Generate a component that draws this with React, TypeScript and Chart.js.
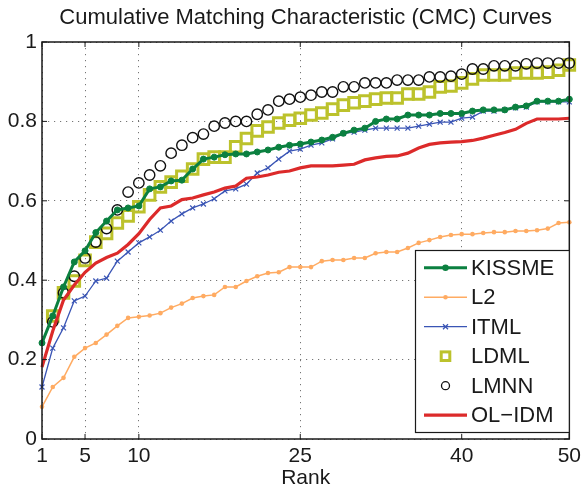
import { useEffect, useRef } from "react";
import { Chart, registerables } from "chart.js";
Chart.register(...registerables);

const ranks = [1,2,3,4,5,6,7,8,9,10,11,12,13,14,15,16,17,18,19,20,21,22,23,24,25,26,27,28,29,30,31,32,33,34,35,36,37,38,39,40,41,42,43,44,45,46,47,48,49,50];
const xTickValues = [1, 5, 10, 25, 40, 50];
const yTickValues = [0, 0.2, 0.4, 0.6, 0.8, 1];
const yTickLabels = ["0", "0.2", "0.4", "0.6", "0.8", "1"];

const kissme = [0.242,0.31,0.383,0.446,0.474,0.52,0.549,0.577,0.582,0.587,0.63,0.635,0.65,0.652,0.68,0.705,0.71,0.716,0.718,0.718,0.723,0.728,0.735,0.74,0.743,0.748,0.753,0.76,0.77,0.778,0.783,0.8,0.806,0.806,0.816,0.816,0.816,0.82,0.82,0.82,0.826,0.829,0.829,0.829,0.836,0.839,0.851,0.851,0.851,0.856];
const l2 = [0.081,0.131,0.154,0.207,0.229,0.242,0.263,0.285,0.305,0.308,0.311,0.317,0.331,0.341,0.355,0.36,0.363,0.383,0.383,0.398,0.41,0.418,0.42,0.433,0.433,0.433,0.448,0.451,0.451,0.456,0.456,0.468,0.471,0.471,0.481,0.494,0.501,0.509,0.514,0.516,0.516,0.519,0.521,0.521,0.524,0.524,0.526,0.53,0.544,0.546];
const itml = [0.131,0.229,0.28,0.348,0.36,0.398,0.405,0.448,0.471,0.494,0.509,0.526,0.549,0.567,0.582,0.592,0.605,0.625,0.63,0.642,0.67,0.683,0.705,0.725,0.73,0.74,0.746,0.756,0.77,0.773,0.778,0.783,0.783,0.783,0.783,0.788,0.793,0.798,0.798,0.808,0.811,0.826,0.826,0.829,0.834,0.836,0.849,0.849,0.849,0.849];
const ldml = [null,0.31,0.368,0.398,0.45,0.496,0.518,0.544,0.562,0.585,0.615,0.635,0.647,0.662,0.68,0.705,0.71,0.71,0.736,0.757,0.776,0.786,0.796,0.803,0.808,0.816,0.821,0.831,0.841,0.847,0.851,0.856,0.859,0.859,0.869,0.869,0.874,0.887,0.889,0.897,0.907,0.917,0.917,0.917,0.922,0.922,0.922,0.924,0.929,0.942];
const lmnn = [null,0.295,0.368,0.41,0.456,0.496,0.53,0.577,0.622,0.645,0.665,0.688,0.72,0.74,0.759,0.768,0.788,0.796,0.8,0.8,0.818,0.829,0.851,0.856,0.861,0.866,0.874,0.874,0.887,0.887,0.897,0.897,0.897,0.904,0.904,0.904,0.912,0.912,0.914,0.919,0.932,0.932,0.94,0.94,0.94,0.945,0.947,0.947,0.947,0.947];
const olidm = [0.181,0.272,0.35,0.388,0.42,0.443,0.457,0.468,0.49,0.517,0.553,0.582,0.587,0.603,0.607,0.615,0.622,0.632,0.637,0.657,0.66,0.665,0.672,0.675,0.683,0.688,0.688,0.688,0.69,0.692,0.703,0.708,0.712,0.713,0.72,0.733,0.742,0.746,0.748,0.749,0.752,0.758,0.765,0.772,0.78,0.795,0.806,0.806,0.806,0.808];

const seriesNames = ["KISSME", "L2", "ITML", "LDML", "LMNN", "OL\u2212IDM"];
const FONT = "'Liberation Sans', Arial, Helvetica, sans-serif";

const GREEN = "#0b8040";
const ORANGE = "#ffab62";
const BLUE = "#3a55b5";
const YELLOW = "#bcc22c";
const BLACK = "#111111";
const RED = "#dc2a2a";

const toPts = (vals: (number | null)[]) => ranks.map((r, i) => ({ x: r, y: vals[i] }));

const framePlugin = {
  id: "frameAndLegend",
  afterDraw(chart: any) {
    const { ctx, chartArea: a, scales } = chart;
    ctx.save();
    ctx.strokeStyle = "#1a1a1a";
    ctx.lineWidth = 1.5;
    ctx.strokeRect(a.left, a.top, a.right - a.left, a.bottom - a.top);
    ctx.lineWidth = 1;
    ctx.beginPath();
    for (const t of xTickValues) {
      const px = scales.x.getPixelForValue(t);
      ctx.moveTo(px, a.bottom); ctx.lineTo(px, a.bottom - 5);
      ctx.moveTo(px, a.top); ctx.lineTo(px, a.top + 5);
    }
    for (const t of yTickValues) {
      const py = scales.y.getPixelForValue(t);
      ctx.moveTo(a.left, py); ctx.lineTo(a.left + 5, py);
      ctx.moveTo(a.right, py); ctx.lineTo(a.right - 5, py);
    }
    ctx.stroke();

    const bx = 415.5, by = 250.5, bw = a.right - 415.5, bh = 182;
    ctx.fillStyle = "#ffffff";
    ctx.fillRect(bx, by, bw, bh);
    ctx.strokeStyle = "#1a1a1a";
    ctx.lineWidth = 1.2;
    ctx.strokeRect(bx, by, bw, bh);
    const rowY0 = 267.7, rowH = 29.5;
    const lx0 = 424, lx1 = 467, mx = 445.5, tx = 471;
    ctx.font = `22px ${FONT}`;
    ctx.textBaseline = "middle";
    ctx.textAlign = "left";
    seriesNames.forEach((name, i) => {
      const y = rowY0 + i * rowH;
      if (i === 0) {
        ctx.strokeStyle = GREEN; ctx.lineWidth = 3;
        ctx.beginPath(); ctx.moveTo(lx0, y); ctx.lineTo(lx1, y); ctx.stroke();
        ctx.fillStyle = GREEN; ctx.beginPath(); ctx.arc(mx, y, 3.2, 0, Math.PI * 2); ctx.fill();
      } else if (i === 1) {
        ctx.strokeStyle = ORANGE; ctx.lineWidth = 1.5;
        ctx.beginPath(); ctx.moveTo(lx0, y); ctx.lineTo(lx1, y); ctx.stroke();
        ctx.fillStyle = ORANGE; ctx.beginPath(); ctx.arc(mx, y, 2.3, 0, Math.PI * 2); ctx.fill();
      } else if (i === 2) {
        ctx.strokeStyle = BLUE; ctx.lineWidth = 1.3;
        ctx.beginPath(); ctx.moveTo(lx0, y); ctx.lineTo(lx1, y); ctx.stroke();
        ctx.beginPath();
        ctx.moveTo(mx - 2.5, y - 2.5); ctx.lineTo(mx + 2.5, y + 2.5);
        ctx.moveTo(mx - 2.5, y + 2.5); ctx.lineTo(mx + 2.5, y - 2.5);
        ctx.stroke();
      } else if (i === 3) {
        ctx.strokeStyle = YELLOW; ctx.lineWidth = 3;
        ctx.strokeRect(mx - 4.3, y - 4.3, 8.6, 8.6);
      } else if (i === 4) {
        ctx.strokeStyle = BLACK; ctx.lineWidth = 1.3;
        ctx.beginPath(); ctx.arc(mx, y, 4, 0, Math.PI * 2); ctx.stroke();
      } else {
        ctx.strokeStyle = RED; ctx.lineWidth = 3.2;
        ctx.beginPath(); ctx.moveTo(lx0, y); ctx.lineTo(lx1, y); ctx.stroke();
      }
      ctx.fillStyle = "#1a1a1a";
      ctx.fillText(name, tx, y + 1);
    });
    ctx.restore();
  },
};

export default function App() {
  const ref = useRef<HTMLCanvasElement>(null);
  useEffect(() => {
    if (!ref.current) return;
    const chart = new Chart(ref.current, {
      type: "line",
      data: {
        datasets: [
          { label: "OL-IDM", data: toPts(olidm), borderColor: RED, borderWidth: 3.2, pointRadius: 0, fill: false, order: 1, clip: false },
          { label: "KISSME", data: toPts(kissme), borderColor: GREEN, backgroundColor: GREEN, borderWidth: 3, pointRadius: 3, pointBorderWidth: 1, pointBackgroundColor: GREEN, pointBorderColor: GREEN, pointStyle: "circle", order: 2, clip: false },
          { label: "LMNN", data: toPts(lmnn), showLine: false, borderColor: BLACK, pointBorderColor: BLACK, pointBackgroundColor: "rgba(0,0,0,0)", pointRadius: 5.2, pointBorderWidth: 1.4, pointStyle: "circle", order: 3, clip: false },
          { label: "LDML", data: toPts(ldml), showLine: false, borderColor: YELLOW, pointBorderColor: YELLOW, pointBackgroundColor: "rgba(0,0,0,0)", pointRadius: 7.5, pointBorderWidth: 3, pointStyle: "rect", order: 4, clip: false },
          { label: "ITML", data: toPts(itml), borderColor: BLUE, borderWidth: 1.3, pointRadius: 3.5, pointBorderWidth: 1.2, pointBorderColor: BLUE, pointStyle: "crossRot", order: 5, clip: false },
          { label: "L2", data: toPts(l2), borderColor: ORANGE, backgroundColor: ORANGE, borderWidth: 1.5, pointRadius: 2.3, pointBorderWidth: 0, pointBackgroundColor: ORANGE, pointStyle: "circle", order: 6, clip: false },
        ] as any,
      },
      options: {
        responsive: false,
        animation: false,
        events: [],
        layout: { padding: { left: 0, right: 13, top: 0, bottom: 0 } },
        plugins: {
          legend: { display: false },
          tooltip: { enabled: false },
          title: {
            display: true,
            text: "Cumulative Matching Characteristic (CMC) Curves",
            color: "#1a1a1a",
            font: { family: FONT, size: 22, weight: "normal" },
            padding: { top: 5, bottom: 10.6 },
            fullSize: false,
          },
        },
        scales: {
          x: {
            type: "linear",
            min: 1,
            max: 50,
            afterBuildTicks: (scale: any) => { scale.ticks = xTickValues.map((v) => ({ value: v })); },
            afterFit: (scale: any) => { scale.height = 48; },
            ticks: { color: "#1a1a1a", font: { family: FONT, size: 21 }, padding: 5, autoSkip: false, maxRotation: 0 },
            grid: { color: "rgba(60,60,60,0.7)", lineWidth: 1, drawTicks: false },
            border: { display: false, dash: [1.2, 4.8] },
            title: { display: true, text: "Rank", color: "#1a1a1a", font: { family: FONT, size: 21, lineHeight: 0.8 }, padding: { top: 0, bottom: 0 } },
          },
          y: {
            min: 0,
            max: 1,
            afterBuildTicks: (scale: any) => { scale.ticks = yTickValues.map((v) => ({ value: v })); },
            afterFit: (scale: any) => { scale.width = 42; },
            ticks: {
              color: "#1a1a1a",
              font: { family: FONT, size: 21 },
              padding: 5,
              callback: (_v: any, i: number) => yTickLabels[i],
            },
            grid: { color: "rgba(60,60,60,0.7)", lineWidth: 1, drawTicks: false },
            border: { display: false, dash: [1.2, 4.8] },
          },
        },
      } as any,
      plugins: [framePlugin],
    });
    return () => chart.destroy();
  }, []);
  return (
    <div style={{ position: "absolute", left: 0, top: 0, width: 586, height: 487, background: "#fff" }}>
      <canvas ref={ref} width={586} height={487} style={{ display: "block" }} />
    </div>
  );
}
